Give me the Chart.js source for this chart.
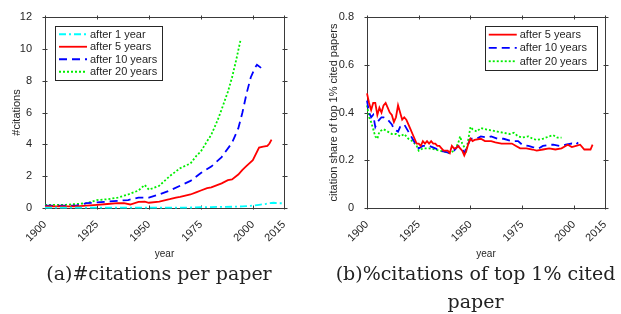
<!DOCTYPE html>
<html>
<head>
<meta charset="utf-8">
<script src="https://cdn.jsdelivr.net/npm/chart.js@4.4.0/dist/chart.umd.min.js"></script>
<style>
  body { margin: 0; background: #fff; width: 621px; height: 314px; position: relative; overflow: hidden; }
  .box { position: absolute; top: 0; height: 262px; }
  .cap { position: absolute; font-family: "DejaVu Serif", serif; font-size: 19px; color: #222; text-align: center; line-height: 28px; white-space: nowrap; }
</style>
</head>
<body>
<div class="box" style="left:0;width:310px"><canvas id="citations"></canvas></div>
<div class="box" style="left:310px;width:311px"><canvas id="share"></canvas></div>
<div class="cap" style="left:20px;width:278px;top:259px">(a)#citations per paper</div>
<div class="cap" style="left:330px;width:291px;top:259px">(b)%citations of top 1% cited<br>paper</div>
<script>
// x ticks (years)
const yearTicks = [1900, 1925, 1950, 1975, 2000, 2015];

// (a) #citations per paper
const years1 = [1900, 1910, 1920, 1930, 1940, 1950, 1960, 1970, 1975, 1980, 1985, 1990, 1995, 2000, 2003, 2006, 2008, 2010, 2012, 2015];
const after1 = [0.02, 0.02, 0.02, 0.02, 0.02, 0.02, 0.02, 0.03, 0.05, 0.06, 0.07, 0.08, 0.1, 0.15, 0.2, 0.25, 0.3, 0.33, 0.3, 0.3];

const years5 = [1900, 1905, 1910, 1915, 1920, 1925, 1930, 1935, 1938, 1941, 1945, 1948, 1950, 1955, 1960, 1963, 1965, 1970, 1973, 1975, 1978, 1980, 1985, 1988, 1990, 1993, 1995, 1997, 2000, 2003, 2005, 2007, 2008, 2009];
const after5 = [0.1, 0.1, 0.1, 0.1, 0.15, 0.2, 0.25, 0.3, 0.3, 0.22, 0.38, 0.4, 0.33, 0.4, 0.55, 0.65, 0.7, 0.85, 1.0, 1.1, 1.25, 1.3, 1.55, 1.75, 1.8, 2.1, 2.4, 2.65, 3.0, 3.8, 3.85, 3.9, 4.05, 4.3];

const years10 = [1900, 1905, 1910, 1915, 1920, 1925, 1930, 1935, 1940, 1945, 1950, 1955, 1960, 1965, 1970, 1975, 1980, 1985, 1990, 1993, 1995, 1997, 1999, 2001, 2002, 2004];
const after10 = [0.15, 0.15, 0.15, 0.15, 0.3, 0.35, 0.4, 0.45, 0.5, 0.65, 0.65, 0.85, 1.1, 1.4, 1.7, 2.2, 2.6, 3.2, 4.1, 5.0, 6.0, 7.2, 8.2, 8.8, 9.0, 8.8];

const years20 = [1900, 1910, 1915, 1920, 1925, 1930, 1935, 1940, 1945, 1948, 1950, 1955, 1960, 1965, 1970, 1973, 1975, 1978, 1980, 1983, 1985, 1988, 1990, 1992, 1994];
const after20 = [0.2, 0.2, 0.25, 0.3, 0.5, 0.55, 0.65, 0.85, 1.1, 1.45, 1.15, 1.4, 2.0, 2.5, 2.8, 3.3, 3.55, 4.2, 4.6, 5.5, 6.2, 7.3, 8.2, 9.3, 10.5];

// (b) citation share of top 1% cited papers
const shareYears5 = [1900, 1901, 1902, 1903, 1904, 1905, 1906, 1907, 1908, 1909, 1910, 1911, 1912, 1913, 1914, 1915, 1916, 1917, 1918, 1919, 1920, 1921, 1922, 1923, 1924, 1925, 1926, 1927, 1928, 1929, 1930, 1931, 1932, 1933, 1934, 1935, 1936, 1937, 1938, 1939, 1940, 1941, 1942, 1943, 1944, 1945, 1946, 1947, 1948, 1949, 1950, 1951, 1952, 1955, 1957, 1960, 1962, 1965, 1968, 1970, 1972, 1974, 1977, 1980, 1982, 1985, 1988, 1991, 1994, 1997, 1999, 2001, 2003, 2005, 2008, 2009];
const share5 = [0.48, 0.44, 0.41, 0.44, 0.44, 0.39, 0.42, 0.40, 0.43, 0.44, 0.42, 0.40, 0.39, 0.36, 0.38, 0.43, 0.40, 0.37, 0.38, 0.37, 0.35, 0.33, 0.31, 0.29, 0.27, 0.27, 0.26, 0.28, 0.27, 0.28, 0.27, 0.28, 0.27, 0.27, 0.26, 0.26, 0.25, 0.24, 0.24, 0.24, 0.23, 0.26, 0.25, 0.25, 0.26, 0.25, 0.24, 0.22, 0.24, 0.27, 0.29, 0.28, 0.285, 0.29, 0.28, 0.28, 0.275, 0.27, 0.27, 0.27, 0.26, 0.25, 0.25, 0.245, 0.24, 0.245, 0.25, 0.245, 0.25, 0.265, 0.255, 0.26, 0.265, 0.245, 0.245, 0.265];

const shareYears10 = [1900, 1901, 1902, 1903, 1904, 1905, 1906, 1907, 1908, 1910, 1912, 1913, 1915, 1916, 1918, 1920, 1922, 1924, 1925, 1927, 1930, 1933, 1935, 1938, 1940, 1942, 1944, 1946, 1947, 1949, 1950, 1953, 1955, 1958, 1960, 1963, 1966, 1970, 1973, 1975, 1978, 1980, 1983, 1985, 1988, 1990, 1993, 1996, 1999, 2001, 2002];
const share10 = [0.45, 0.40, 0.38, 0.39, 0.34, 0.36, 0.37, 0.38, 0.38, 0.37, 0.35, 0.33, 0.32, 0.34, 0.35, 0.32, 0.29, 0.26, 0.25, 0.26, 0.26, 0.25, 0.24, 0.235, 0.23, 0.24, 0.26, 0.25, 0.23, 0.27, 0.29, 0.29, 0.30, 0.295, 0.30, 0.29, 0.29, 0.28, 0.28, 0.265, 0.26, 0.255, 0.25, 0.26, 0.265, 0.265, 0.26, 0.265, 0.27, 0.265, 0.275];

const shareYears20 = [1900, 1901, 1902, 1903, 1904, 1905, 1906, 1908, 1910, 1912, 1914, 1916, 1918, 1920, 1922, 1924, 1925, 1927, 1930, 1933, 1935, 1938, 1940, 1942, 1944, 1945, 1946, 1948, 1949, 1950, 1951, 1953, 1955, 1957, 1960, 1963, 1966, 1969, 1971, 1973, 1975, 1978, 1980, 1982, 1985, 1988, 1990, 1992, 1994];
const share20 = [0.43, 0.38, 0.36, 0.33, 0.30, 0.29, 0.32, 0.33, 0.32, 0.31, 0.31, 0.30, 0.31, 0.29, 0.28, 0.26, 0.24, 0.25, 0.25, 0.245, 0.24, 0.235, 0.23, 0.24, 0.27, 0.30, 0.27, 0.24, 0.29, 0.34, 0.33, 0.32, 0.335, 0.33, 0.325, 0.32, 0.315, 0.31, 0.315, 0.30, 0.295, 0.30, 0.29, 0.285, 0.29, 0.30, 0.305, 0.295, 0.295];

const axisColor = '#262626';
const font = { family: 'Liberation Sans, Arial, sans-serif', size: 11 };

function pts(xs, ys) {
  return xs.map((x, i) => ({ x: x, y: ys[i] }));
}

// box around the plot with small ticks on every side
const boxPlugin = {
  id: 'box',
  beforeDatasetsDraw(chart) {
    const { ctx, chartArea: a, scales } = chart;
    const L = Math.round(a.left) + 0.5, R = Math.round(a.right) + 0.5;
    const T = Math.round(a.top) + 0.5, B = Math.round(a.bottom) + 0.5;
    ctx.save();
    ctx.strokeStyle = '#3a3a3a';
    ctx.lineWidth = 1;
    ctx.strokeRect(L, T, R - L, B - T);
    ctx.beginPath();
    scales.x.ticks.forEach(t => {
      const px = Math.round(scales.x.getPixelForValue(t.value)) + 0.5;
      ctx.moveTo(px, B + 1); ctx.lineTo(px, B - 3);
      ctx.moveTo(px, T - 2); ctx.lineTo(px, T + 2);
    });
    scales.y.ticks.forEach(t => {
      const py = Math.round(scales.y.getPixelForValue(t.value)) + 0.5;
      ctx.moveTo(L - 3, py); ctx.lineTo(L + 2, py);
      ctx.moveTo(R + 3, py); ctx.lineTo(R - 2, py);
    });
    ctx.stroke();
    ctx.restore();
  }
};

// legend drawn inside the plot area
const innerLegend = {
  id: 'innerLegend',
  afterDraw(chart, args, opts) {
    const { ctx, chartArea: a } = chart;
    const sets = chart.data.datasets;
    ctx.save();
    ctx.font = font.size + 'px ' + font.family;
    const textW = Math.max(...sets.map(d => ctx.measureText(d.label).width));
    const rowH = opts.rowH;
    const w = 4 + 28 + 3 + textW + opts.extra;
    const h = sets.length * rowH + 4;
    const left = opts.align === 'right' ? a.right - opts.dx - w : a.left + opts.dx;
    const top = a.top + opts.dy;
    ctx.fillStyle = '#fff';
    ctx.fillRect(left, top, w, h);
    ctx.strokeStyle = axisColor;
    ctx.lineWidth = 1;
    ctx.strokeRect(Math.round(left) + 0.5, Math.round(top) + 0.5, Math.round(w), Math.round(h));
    sets.forEach((d, i) => {
      const cy = top + 2 + rowH * (i + 0.5);
      ctx.strokeStyle = d.borderColor;
      ctx.lineWidth = d.borderWidth;
      ctx.setLineDash(d.borderDash || []);
      ctx.beginPath();
      ctx.moveTo(left + 4, cy);
      ctx.lineTo(left + 32, cy);
      ctx.stroke();
      ctx.setLineDash([]);
      ctx.fillStyle = axisColor;
      ctx.textBaseline = 'middle';
      ctx.fillText(d.label, left + 35, cy + 0.5);
    });
    ctx.restore();
  }
};

function makeChart(id, datasets, yOpts, yTitle, pad, yWidth, legendOpts) {
  return new Chart(document.getElementById(id), {
    type: 'line',
    data: { datasets: datasets },
    plugins: [boxPlugin, innerLegend],
    options: {
      responsive: true,
      maintainAspectRatio: false,
      animation: false,
      layout: { padding: pad },
      elements: { point: { radius: 0 }, line: { tension: 0 } },
      plugins: {
        legend: { display: false },
        tooltip: { enabled: false },
        innerLegend: legendOpts
      },
      scales: {
        x: {
          type: 'linear',
          min: 1900,
          max: 2015,
          afterBuildTicks: s => { s.ticks = yearTicks.map(v => ({ value: v })); },
          afterFit: s => { s.height = 54; },
          grid: { display: false },
          border: { display: false },
          ticks: { color: axisColor, font: font, minRotation: 45, maxRotation: 45, autoSkip: false, padding: 2, callback: v => String(v) },
          title: { display: true, text: 'year', color: axisColor, font: { family: font.family, size: 10 }, padding: { top: 0, bottom: 2 } }
        },
        y: Object.assign({
          afterFit: s => { s.width = yWidth; },
          grid: { display: false },
          border: { display: false },
          title: { display: true, text: yTitle, color: axisColor, font: font, padding: { top: 0, bottom: 0 } }
        }, yOpts)
      }
    }
  });
}

makeChart('citations', [
  { label: 'after 1 year', data: pts(years1, after1), borderColor: '#00ffff', borderWidth: 1.8, borderDash: [7, 3, 2, 3], clip: 4 },
  { label: 'after 5 years', data: pts(years5, after5), borderColor: '#ff0000', borderWidth: 1.8, clip: 4 },
  { label: 'after 10 years', data: pts(years10, after10), borderColor: '#0000ff', borderWidth: 1.8, borderDash: [8, 5], clip: 4 },
  { label: 'after 20 years', data: pts(years20, after20), borderColor: '#00ee00', borderWidth: 1.8, borderDash: [2, 2], clip: 4 }
], {
  min: 0, max: 12,
  ticks: { stepSize: 2, color: axisColor, font: font, padding: 5 }
}, '#citations', { left: 10, right: 26, top: 17, bottom: 0 }, 35, { align: 'left', dx: 10, dy: 9, rowH: 12.5, extra: 5 });

makeChart('share', [
  { label: 'after 5 years', data: pts(shareYears5, share5), borderColor: '#ff0000', borderWidth: 1.8, clip: 4 },
  { label: 'after 10 years', data: pts(shareYears10, share10), borderColor: '#0000ff', borderWidth: 1.8, borderDash: [8, 5], clip: 4 },
  { label: 'after 20 years', data: pts(shareYears20, share20), borderColor: '#00ee00', borderWidth: 1.8, borderDash: [2, 2], clip: 4 }
], {
  min: 0, max: 0.8,
  ticks: { stepSize: 0.2, color: axisColor, font: font, padding: 5, callback: v => v === 0 ? '0' : v.toFixed(1) }
}, 'citation share of top 1% cited papers', { left: 17, right: 16, top: 17, bottom: 0 }, 40, { align: 'right', dx: 8, dy: 9, rowH: 13.3, extra: 10 });
</script>
</body>
</html>
